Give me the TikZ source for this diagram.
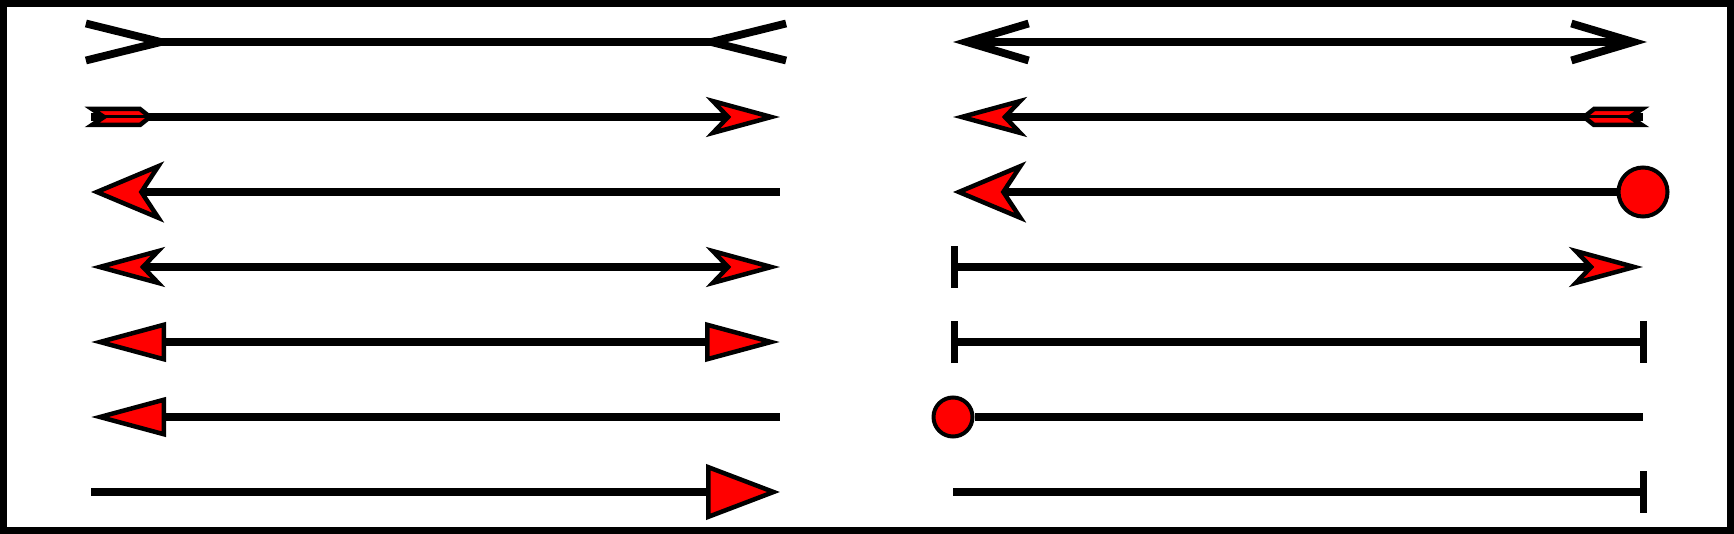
\documentclass[tikz,border=0pt]{standalone}
\usetikzlibrary{arrows.meta}

\tikzset{
  shaft/.style={line width=7.8pt},
  dot/.style={draw,circle,fill=red,line width=4pt,inner sep=0pt},
  openbarb/.tip={Straight Barb[length=62pt,width=37pt]},
  backbarb/.tip={Straight Barb[length=75pt,width=37pt,reversed]},
  rstealth/.tip={Stealth[length=74pt,width=40pt,inset=19pt,fill=red,line width=4.5pt]},
  bigstealth/.tip={Stealth[length=73pt,width=61pt,inset=20pt,fill=red,line width=4.5pt]},
  rtri/.tip={Triangle[length=75pt,width=39pt,fill=red,line width=4.5pt]},
  bigtri/.tip={Triangle[length=74pt,width=55pt,fill=red,line width=4.5pt]},
  tbar/.tip={Bar[width=42pt,line width=7pt]},
  feather/.pic={\draw[fill=red,line width=4.5pt,line join=miter]
      (1,-8)--(49,-8)--(59,0)--(49,8)--(1,8)--(13,0)--cycle;
    \draw[line width=3pt] (13,0)--(57,0);}
}

\begin{document}
\begin{tikzpicture}[x=1pt,y=-1pt]
\useasboundingbox (0,0) rectangle (1734,534);
\draw[line width=7pt] (3.5,3.5) rectangle (1730.5,530.5);
% ends of the rows
\foreach \r in {1,...,7}{\pgfmathsetmacro\yy{42+75*(\r-1)}
  \coordinate (ls\r) at (91,\yy);\coordinate (le\r) at (780,\yy);
  \coordinate (rs\r) at (953,\yy);\coordinate (re\r) at (1643,\yy);}
\coordinate (ws) at (82,42);\coordinate (we) at (790,42);
% left column
\draw[shaft,backbarb-backbarb] (ws)--(we);
\draw[shaft,-rstealth] (ls2)--(le2);\pic at (ls2) {feather};
\draw[shaft,bigstealth-] (ls3)--(le3);
\draw[shaft,rstealth-rstealth] (ls4)--(le4);
\draw[shaft,rtri-rtri] (ls5)--(le5);
\draw[shaft,rtri-] (ls6)--(le6);
\draw[shaft,-bigtri] (ls7)--(le7);
% right column
\draw[shaft,openbarb-openbarb] (rs1)--([xshift=4pt]re1);
\draw[shaft,rstealth-] (rs2)--(re2);\pic[rotate=180] at (re2) {feather};
\node[dot,minimum size=49pt] (c3) at (re3) {};
\draw[shaft,bigstealth-] (rs3)--(c3);
\draw[shaft,tbar-rstealth] ([xshift=-2pt]rs4)--(re4);
\draw[shaft,tbar-tbar] ([xshift=-2pt]rs5)--([xshift=4pt]re5);
\node[dot,minimum size=39pt] (c6) at (rs6) {};
\draw[shaft] (c6)--(re6);
\draw[shaft,-tbar] (rs7)--([xshift=4pt]re7);
\end{tikzpicture}
\end{document}
